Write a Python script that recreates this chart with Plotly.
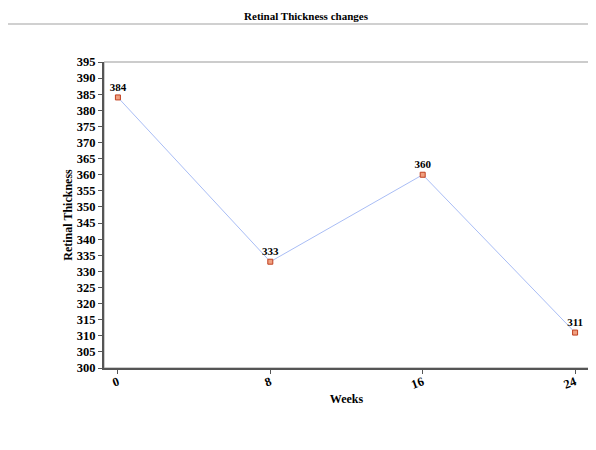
import plotly.graph_objects as go

weeks = [0, 8, 16, 24]
thickness = [384, 333, 360, 311]
y_ticks = list(range(300, 396, 5))

fig = go.Figure()
fig.add_trace(go.Scatter(
    x=weeks, y=thickness, mode="lines+markers+text",
    line=dict(color="#a9bdf5", width=1),
    marker=dict(symbol="square", size=5, color="#f0a080", line=dict(color="#c04020", width=1)),
    text=[str(v) for v in thickness], textposition="top center",
    textfont=dict(family="Liberation Serif", size=11, color="black", weight="bold"),
    cliponaxis=False, showlegend=False,
))

fig.update_layout(
    width=596, height=450,
    margin=dict(l=96, r=15, t=54, b=90),
    paper_bgcolor="white", plot_bgcolor="white",
    font=dict(family="Liberation Serif", color="black"),
    title=dict(text="<b>Retinal Thickness changes</b>", x=0.5, xanchor="center",
               y=0.982, yanchor="middle", font=dict(size=11, family="Liberation Serif")),
    shapes=[dict(type="line", xref="paper", yref="paper", x0=-0.25, x1=1.05,
                 y0=1.124, y1=1.124, line=dict(color="#d0d0d0", width=2))],
)
fig.update_xaxes(
    range=[-0.73, 24.73], tickvals=weeks, ticktext=[str(w) for w in weeks],
    tickangle=-20, ticks="outside", ticklen=4, tickcolor="#555",
    ticklabelstandoff=-4,
    tickfont=dict(size=12.5, family="Liberation Serif", weight="bold"),
    showline=True, linecolor="#555", linewidth=2, mirror=False, showgrid=False, zeroline=False,
    title=dict(text="<b>Weeks</b>", font=dict(size=12), standoff=4),
)
fig.update_yaxes(
    range=[300, 395], tickvals=y_ticks, ticks="outside", ticklen=4, tickcolor="#555",
    tickfont=dict(size=12.5, family="Liberation Serif", weight="bold"),
    showline=True, linecolor="#555", linewidth=2, showgrid=False, zeroline=False,
    title=dict(text="<b>Retinal Thickness</b>", font=dict(size=12), standoff=2),
)
# thin top/right border
fig.add_shape(type="rect", xref="paper", yref="paper", x0=0, x1=1, y0=0, y1=1,
              line=dict(color="#999", width=1), layer="below")

fig.write_html("out.html")
